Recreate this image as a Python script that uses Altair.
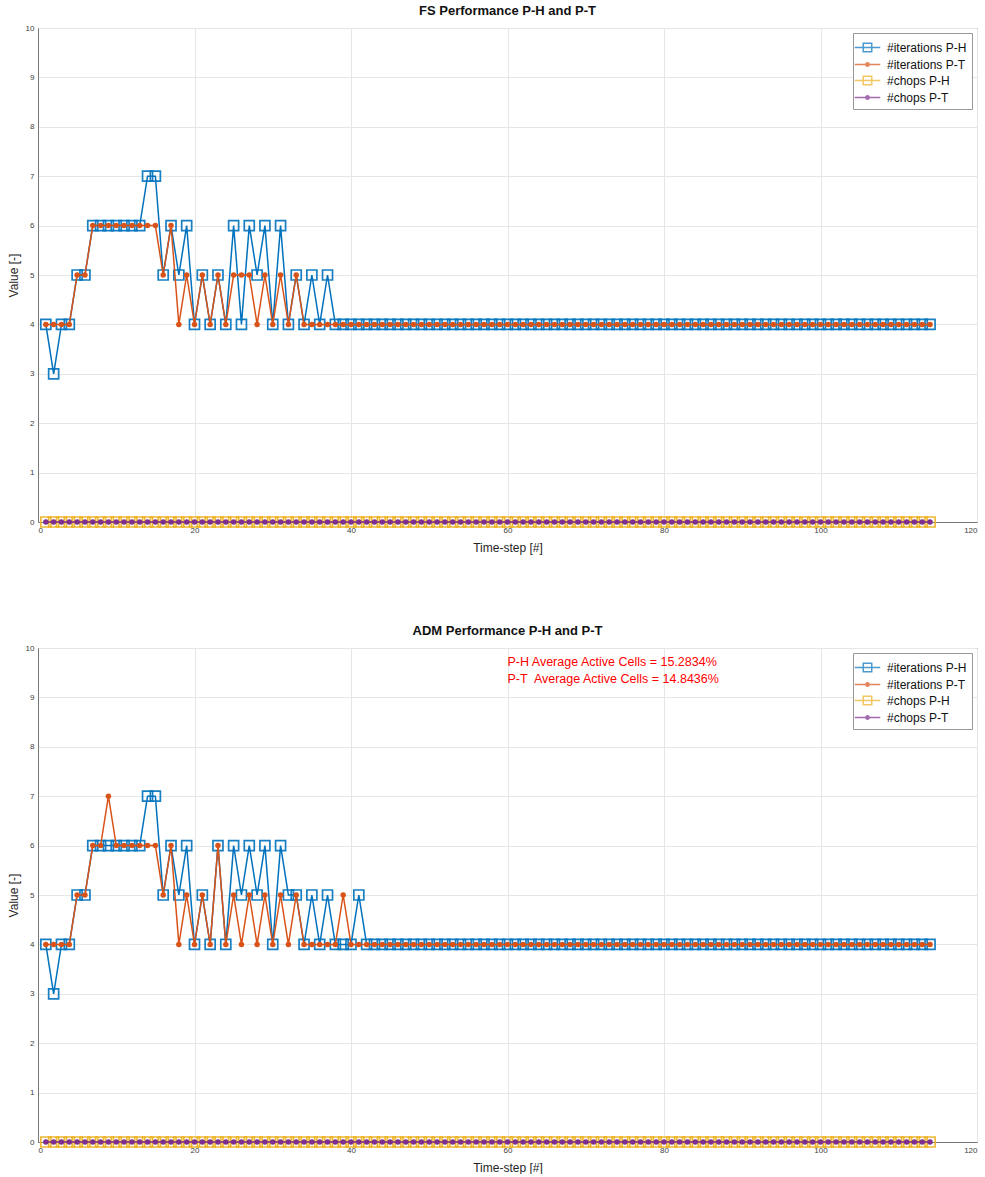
import altair as alt
import pandas as pd

# ---------------- data ----------------
timesteps = list(range(1, 115))

series_names = ["#iterations P-H", "#iterations P-T", "#chops P-H", "#chops P-T"]
series_colors = ["#0072BD", "#D95319", "#EDB120", "#7E2F8E"]

fs_iter_ph = [4, 3, 4, 4, 5, 5, 6, 6, 6, 6, 6, 6, 6, 7, 7, 5, 6, 5, 6,
              4, 5, 4, 5, 4, 6, 4, 6, 5, 6, 4, 6, 4, 5, 4, 5, 4, 5, 4,
              4, 4, 4, 4, 4, 4, 4, 4, 4, 4, 4, 4, 4, 4, 4, 4, 4, 4, 4,
              4, 4, 4, 4, 4, 4, 4, 4, 4, 4, 4, 4, 4, 4, 4, 4, 4, 4, 4,
              4, 4, 4, 4, 4, 4, 4, 4, 4, 4, 4, 4, 4, 4, 4, 4, 4, 4, 4,
              4, 4, 4, 4, 4, 4, 4, 4, 4, 4, 4, 4, 4, 4, 4, 4, 4, 4, 4]
fs_iter_pt = [4, 4, 4, 4, 5, 5, 6, 6, 6, 6, 6, 6, 6, 6, 6, 5, 6, 4, 5,
              4, 5, 4, 5, 4, 5, 5, 5, 4, 5, 4, 5, 4, 5, 4, 4, 4, 4, 4,
              4, 4, 4, 4, 4, 4, 4, 4, 4, 4, 4, 4, 4, 4, 4, 4, 4, 4, 4,
              4, 4, 4, 4, 4, 4, 4, 4, 4, 4, 4, 4, 4, 4, 4, 4, 4, 4, 4,
              4, 4, 4, 4, 4, 4, 4, 4, 4, 4, 4, 4, 4, 4, 4, 4, 4, 4, 4,
              4, 4, 4, 4, 4, 4, 4, 4, 4, 4, 4, 4, 4, 4, 4, 4, 4, 4, 4]
fs_chops_ph = [0] * 114
fs_chops_pt = [0] * 114

adm_iter_ph = [4, 3, 4, 4, 5, 5, 6, 6, 6, 6, 6, 6, 6, 7, 7, 5, 6, 5, 6,
               4, 5, 4, 6, 4, 6, 5, 6, 5, 6, 4, 6, 5, 5, 4, 5, 4, 5, 4,
               4, 4, 5, 4, 4, 4, 4, 4, 4, 4, 4, 4, 4, 4, 4, 4, 4, 4, 4,
               4, 4, 4, 4, 4, 4, 4, 4, 4, 4, 4, 4, 4, 4, 4, 4, 4, 4, 4,
               4, 4, 4, 4, 4, 4, 4, 4, 4, 4, 4, 4, 4, 4, 4, 4, 4, 4, 4,
               4, 4, 4, 4, 4, 4, 4, 4, 4, 4, 4, 4, 4, 4, 4, 4, 4, 4, 4]
adm_iter_pt = [4, 4, 4, 4, 5, 5, 6, 6, 7, 6, 6, 6, 6, 6, 6, 5, 6, 4, 5,
               4, 5, 4, 6, 4, 5, 4, 5, 4, 5, 4, 5, 4, 5, 4, 4, 4, 4, 4,
               5, 4, 4, 4, 4, 4, 4, 4, 4, 4, 4, 4, 4, 4, 4, 4, 4, 4, 4,
               4, 4, 4, 4, 4, 4, 4, 4, 4, 4, 4, 4, 4, 4, 4, 4, 4, 4, 4,
               4, 4, 4, 4, 4, 4, 4, 4, 4, 4, 4, 4, 4, 4, 4, 4, 4, 4, 4,
               4, 4, 4, 4, 4, 4, 4, 4, 4, 4, 4, 4, 4, 4, 4, 4, 4, 4, 4]
adm_chops_ph = [0] * 114
adm_chops_pt = [0] * 114

adm_notes = ["P-H Average Active Cells = 15.2834%",
             "P-T\u00a0 Average Active Cells = 14.8436%"]
adm_notes_x = [60, 60]
adm_notes_y = [9.72, 9.37]

x_ticks = [0, 20, 40, 60, 80, 100, 120]
y_ticks = [0, 1, 2, 3, 4, 5, 6, 7, 8, 9, 10]

# legend symbols: a short line with the marker on it
legend_shapes = [
    "M-1.5,0H1.5M-0.5,-0.5H0.5V0.5H-0.5Z",
    "M-1.5,0H1.5M-0.2,0A0.2,0.2 0 1,0 0.2,0A0.2,0.2 0 1,0 -0.2,0ZM-0.08,0A0.08,0.08 0 1,0 0.08,0A0.08,0.08 0 1,0 -0.08,0Z",
    "M-1.5,0H1.5M-0.5,-0.5H0.5V0.5H-0.5Z",
    "M-1.5,0H1.5M-0.2,0A0.2,0.2 0 1,0 0.2,0A0.2,0.2 0 1,0 -0.2,0ZM-0.08,0A0.08,0.08 0 1,0 0.08,0A0.08,0.08 0 1,0 -0.08,0Z",
]

W, H = 939, 494


def panel(title, iph, ipt, cph, cpt, notes=None, notes_x=None, notes_y=None):
    rows = []
    for name, vals in zip(series_names, [iph, ipt, cph, cpt]):
        for t, v in zip(timesteps, vals):
            rows.append({"t": t, "value": v, "series": name})
    df = pd.DataFrame(rows)

    xenc = alt.X("t:Q", scale=alt.Scale(domain=[0, 120], nice=False),
                 axis=alt.Axis(values=x_ticks, title="Time-step [#]"))
    yenc = alt.Y("value:Q", scale=alt.Scale(domain=[0, 10], nice=False),
                 axis=alt.Axis(values=y_ticks, title="Value [-]"))

    layers = []
    for i, name in enumerate(series_names):
        sub = alt.Chart(df).transform_filter(alt.datum.series == name)
        layers.append(sub.mark_line(color=series_colors[i], strokeWidth=1.5)
                      .encode(x=xenc, y=yenc))
        if i % 2 == 0:
            pts = sub.mark_point(shape="square", filled=False, size=100,
                                 strokeWidth=1.7, color=series_colors[i], opacity=0.9)
        else:
            pts = sub.mark_point(shape="circle", filled=True, size=30,
                                 color=series_colors[i], opacity=1)
        layers.append(pts.encode(x=xenc, y=yenc))

    legend_layer = (
        alt.Chart(df)
        .transform_filter("datum.t < 0")
        .mark_point(filled=False, strokeWidth=1.5)
        .encode(
            x=xenc, y=yenc,
            color=alt.Color("series:N",
                            scale=alt.Scale(domain=series_names, range=series_colors),
                            legend=alt.Legend(title=None)),
            shape=alt.Shape("series:N",
                            scale=alt.Scale(domain=series_names, range=legend_shapes),
                            legend=alt.Legend(title=None)),
        )
    )
    layers.append(legend_layer)

    if notes:
        ndf = pd.DataFrame({"x": notes_x, "y": notes_y, "label": notes})
        layers.append(
            alt.Chart(ndf).mark_text(align="left", baseline="middle", color="#FF0000",
                                     fontSize=12.5, font="Liberation Sans")
            .encode(x=alt.X("x:Q"), y=alt.Y("y:Q"), text="label:N")
        )

    return alt.layer(*layers).properties(
        width=W, height=H,
        title=alt.TitleParams(title, fontSize=13, fontWeight="bold",
                              font="Liberation Sans", color="#111111", offset=6),
    )


top = panel("FS Performance P-H and P-T", fs_iter_ph, fs_iter_pt, fs_chops_ph, fs_chops_pt)
bottom = panel("ADM Performance P-H and P-T", adm_iter_ph, adm_iter_pt, adm_chops_ph,
               adm_chops_pt, adm_notes, adm_notes_x, adm_notes_y)

chart = (
    alt.vconcat(top, bottom, spacing=70)
    .resolve_scale(color="independent", shape="independent")
    .resolve_legend(color="independent", shape="independent")
    .properties(padding={"left": 6, "top": 4, "right": 3, "bottom": 0})
    .configure_view(stroke="#444444", strokeWidth=1)
    .configure_axis(
        labelFont="Liberation Sans", titleFont="Liberation Sans",
        labelFontSize=8, labelColor="#404040",
        titleFontSize=12, titleFontWeight="normal", titleColor="#262626",
        gridColor="#e6e6e6", gridWidth=1,
        domainColor="#777777", ticks=False, labelPadding=4,
    )
    .configure_axisX(titlePadding=6, minExtent=14)
    .configure_axisY(titlePadding=4, minExtent=14, maxExtent=14)
    .configure_legend(
        orient="top-right", offset=5, padding=5,
        strokeColor="#999999", fillColor="#ffffff",
        labelFont="Liberation Sans", labelFontSize=12, labelColor="#111111",
        symbolSize=289, symbolStrokeWidth=1.5, labelOffset=10, rowPadding=0,
    )
)

chart.save("out.html", embed_options={"renderer": "svg", "actions": False})
